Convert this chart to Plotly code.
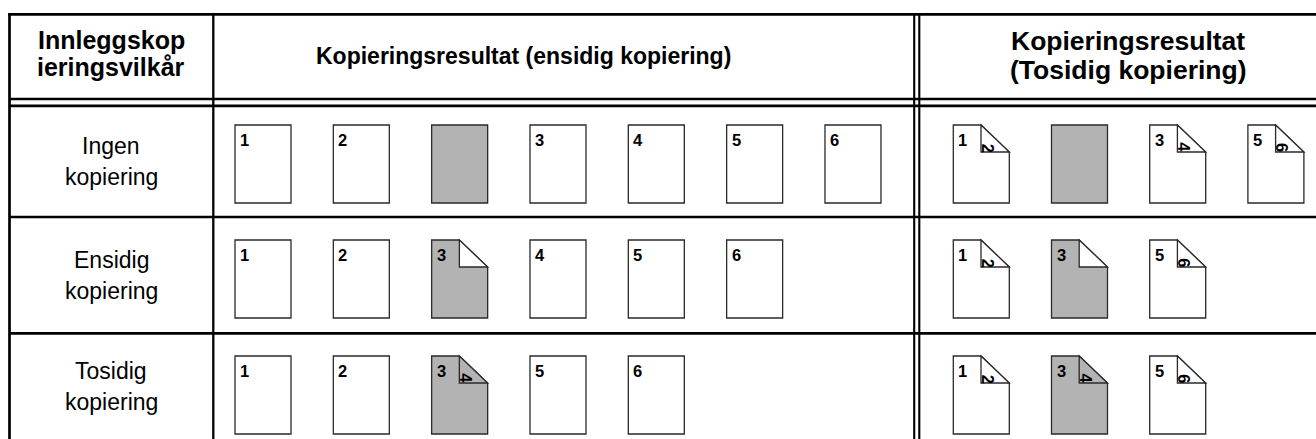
import plotly.graph_objects as go

# ---------------- data ----------------
header_left = ["Innleggskop", "ieringsvilkår"]
header_mid = ["Kopieringsresultat (ensidig kopiering)"]
header_right = ["Kopieringsresultat", "(Tosidig kopiering)"]
row_labels = [["Ingen", "kopiering"], ["Ensidig", "kopiering"], ["Tosidig", "kopiering"]]

# one-sided copying result: front page number, back page number (None = no fold), insert sheet flag
simplex_front = [["1", "2", "", "3", "4", "5", "6"],
                 ["1", "2", "3", "4", "5", "6"],
                 ["1", "2", "3", "5", "6"]]
simplex_back = [[None, None, None, None, None, None, None],
                [None, None, "", None, None, None],
                [None, None, "4", None, None]]
simplex_insert = [[0, 0, 1, 0, 0, 0, 0],
                  [0, 0, 1, 0, 0, 0],
                  [0, 0, 1, 0, 0]]

# two-sided copying result
duplex_front = [["1", "", "3", "5"], ["1", "3", "5"], ["1", "3", "5"]]
duplex_back = [["2", None, "4", "6"], ["2", "", "6"], ["2", "4", "6"]]
duplex_insert = [[0, 1, 0, 0], [0, 1, 0], [0, 1, 0]]

# ---------------- layout / style ----------------
W, H = 1316, 439
FONT = "Liberation Sans, Arial, Helvetica, sans-serif"
GRAY = "#b3b3b3"
EDGE = "#2a2a2a"

left_x = 9.5
top_y = 14.3
col1_x = 213.3
dbl_x = [914.2, 919.3]
hdr_y = [99.0, 105.8]
row_div = [217.0, 333.3]
page_tops = [125.0, 240.0, 356.0]
row_mid = [161.5, 275.5, 386.5]
page_w, page_h = 56.0, 78.0
fold_w, fold_h = 28.3, 27.0
simplex_x0, simplex_step = 235.0, 98.33
duplex_x0, duplex_step = 953.3, 98.2

fig = go.Figure()
shapes = []
annotations = []

LW = 2.7
def hline(y, x0, x1):
    shapes.append(dict(type="line", xref="x", yref="y", x0=x0, x1=x1, y0=y, y1=y,
                       line=dict(color="black", width=LW)))

def vline(x, y0, y1, w=LW):
    shapes.append(dict(type="line", xref="x", yref="y", x0=x, x1=x, y0=y0, y1=y1,
                       line=dict(color="black", width=w)))

# table frame
hline(top_y, left_x - 1.3, W + 2)
for y in hdr_y:
    hline(y, left_x, W + 2)
for y in row_div:
    hline(y, left_x, W + 2)
vline(left_x, top_y - 1.3, H + 2)
vline(col1_x, top_y, H + 2, 2.3)
for x in dbl_x:
    vline(x, top_y, H + 2, 2.1)

def text(x, y, s, size, bold=False, xanchor="center", angle=0):
    annotations.append(dict(x=x, y=y, xref="x", yref="y", text=("<b>%s</b>" % s) if bold else s,
                            showarrow=False, xanchor=xanchor, yanchor="middle", textangle=angle,
                            font=dict(family=FONT, size=size, color="black")))

# headers
for i, s in enumerate(header_left):
    text(111, 39.5 + i * 27.0, s, 25, bold=True)
text(523.5, 55.5, header_mid[0], 23, bold=True)
for i, s in enumerate(header_right):
    text(1128, 40.5 + i * 29.5, s, 26.5, bold=True)

# row labels
for r, lines in enumerate(row_labels):
    for i, s in enumerate(lines):
        text(111, row_mid[r] - 15.5 + i * 31.0, s, 23)

PW = 1.3
def page(x0, y0, front, back, insert):
    fill = GRAY if insert else "white"
    if back is None:
        path = "M %.2f %.2f L %.2f %.2f L %.2f %.2f L %.2f %.2f Z" % (
            x0, y0, x0 + page_w, y0, x0 + page_w, y0 + page_h, x0, y0 + page_h)
        shapes.append(dict(type="path", xref="x", yref="y", path=path, fillcolor=fill,
                           line=dict(color=EDGE, width=PW)))
    else:
        fx = x0 + page_w - fold_w
        path = "M %.2f %.2f L %.2f %.2f L %.2f %.2f L %.2f %.2f L %.2f %.2f Z" % (
            x0, y0, fx, y0, x0 + page_w, y0 + fold_h, x0 + page_w, y0 + page_h, x0, y0 + page_h)
        shapes.append(dict(type="path", xref="x", yref="y", path=path, fillcolor=fill,
                           line=dict(color=EDGE, width=PW)))
        bfill = GRAY if (insert and back) else "white"
        tri = "M %.2f %.2f L %.2f %.2f L %.2f %.2f Z" % (
            fx, y0, fx, y0 + fold_h, x0 + page_w, y0 + fold_h)
        shapes.append(dict(type="path", xref="x", yref="y", path=tri, fillcolor=bfill,
                           line=dict(color=EDGE, width=PW)))
        if back:
            text(fx + 7.0, y0 + fold_h - 4.3, back, 16.5, bold=True, angle=90)
    if front:
        text(x0 + 3.0, y0 + 14.8, front, 16.5, bold=True, xanchor="left")

for r in range(3):
    for i, f in enumerate(simplex_front[r]):
        page(simplex_x0 + i * simplex_step, page_tops[r], f, simplex_back[r][i], simplex_insert[r][i])
    for i, f in enumerate(duplex_front[r]):
        page(duplex_x0 + i * duplex_step, page_tops[r], f, duplex_back[r][i], duplex_insert[r][i])

fig.update_layout(
    width=W, height=H, margin=dict(l=0, r=0, t=0, b=0),
    paper_bgcolor="white", plot_bgcolor="white",
    xaxis=dict(range=[0, W], visible=False, fixedrange=True),
    yaxis=dict(range=[H, 0], visible=False, fixedrange=True),
    shapes=shapes, annotations=annotations, showlegend=False,
)
fig.write_html("out.html", config={"displayModeBar": False},
               post_script="document.body.style.margin='0';document.body.style.overflow='hidden';")
